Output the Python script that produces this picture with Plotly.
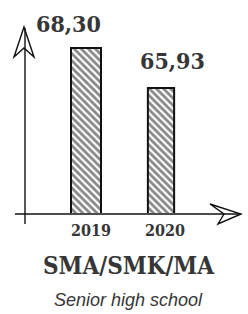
import plotly.graph_objects as go

years = ["2019", "2020"]
values = [68.30, 65.93]
value_labels = ["68,30", "65,93"]
title_text = "SMA/SMK/MA"
subtitle_text = "Senior high school"

W, H = 248, 314
L, R, T, B = 25, 8, 28, 101
PW, PH = W - L - R, H - T - B

def px(x):
    return (x - L) / PW

def py(y):
    return (H - B - y) / PH

ink = "#111111"
text_col = "#363636"
cond = "DejaVu Serif Condensed"

fig = go.Figure()
fig.add_trace(go.Bar(
    x=years, y=values,
    width=[0.4, 0.35],
    marker=dict(color="white",
                line=dict(color=ink, width=2),
                pattern=dict(shape="\\", fgcolor=ink, bgcolor="white", size=5, solidity=0.55)),
    hoverinfo="skip",
))

shifts = [(-17, 24), (11, 27)]
for i, (v, lab, (dx, dy)) in enumerate(zip(values, value_labels, shifts)):
    fig.add_annotation(x=i, y=v, text=lab, showarrow=False, xshift=dx, yshift=dy,
                       yanchor="middle",
                       font=dict(family=cond, size=23, color=text_col, weight="bold"))

year_shifts = [5, 4]
for i, (yr, dx) in enumerate(zip(years, year_shifts)):
    fig.add_annotation(x=i, y=py(230), yref="paper", text=yr, showarrow=False, xshift=dx,
                       yanchor="middle",
                       font=dict(family=cond, size=16, color=text_col, weight="bold"))

fig.add_annotation(x=px(128.5), y=py(265), xref="paper", yref="paper", text=title_text,
                   showarrow=False, yanchor="middle",
                   font=dict(family=cond, size=24, color=text_col, weight="bold"))
fig.add_annotation(x=px(128.5), y=py(300), xref="paper", yref="paper", text=subtitle_text,
                   showarrow=False, yanchor="middle",
                   font=dict(family="Liberation Sans", size=18, color=text_col, style="italic"))

line = dict(color=ink, width=1.4)
fig.add_shape(type="line", xref="paper", yref="paper", x0=px(15), x1=px(240), y0=py(214), y1=py(214), line=line)
fig.add_shape(type="line", xref="paper", yref="paper", x0=px(25), x1=px(25), y0=py(224), y1=py(28), line=line)

def path(pts):
    return "M " + " L ".join(f"{px(a):.4f},{py(b):.4f}" for a, b in pts) + " Z"

fig.add_shape(type="path", xref="paper", yref="paper",
              path=path([(14, 57), (24, 27), (34, 57), (24, 48)]), line=line, fillcolor="rgba(0,0,0,0)")
fig.add_shape(type="path", xref="paper", yref="paper",
              path=path([(210, 204), (241, 214), (218, 224), (224, 214)]), line=line, fillcolor="rgba(0,0,0,0)")

fig.update_layout(
    width=W, height=H,
    margin=dict(l=L, r=R, t=T, b=B),
    paper_bgcolor="white", plot_bgcolor="white",
    showlegend=False,
    xaxis=dict(type="category", range=[-0.813, 2.053], showgrid=False, zeroline=False, showline=False,
               ticks="", showticklabels=False),
    yaxis=dict(range=[58.53, 69.48], showgrid=False, zeroline=False, showline=False,
               showticklabels=False, ticks=""),
)

fig.write_html("out.html", config={"displayModeBar": False, "staticPlot": True},
               post_script="document.body.style.margin='0';")
